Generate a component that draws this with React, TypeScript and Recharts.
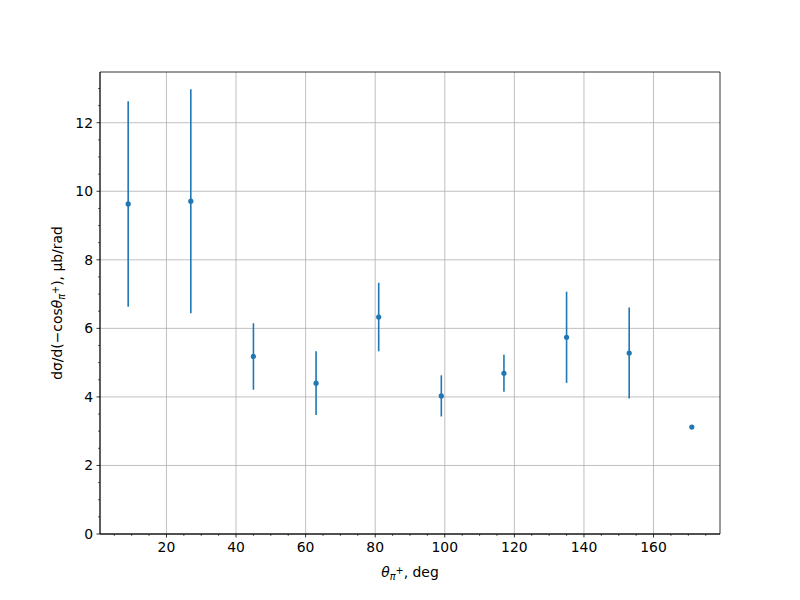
import { ScatterChart, Scatter, XAxis, YAxis, CartesianGrid, ErrorBar, ReferenceArea } from "recharts";

const angles = [9, 27, 45, 63, 81, 99, 117, 135, 153, 171];
const crossSection = [9.63, 9.71, 5.18, 4.4, 6.33, 4.03, 4.69, 5.74, 5.28, 3.12];
const errors = [3.0, 3.27, 0.97, 0.93, 1.0, 0.6, 0.54, 1.33, 1.33, 0];

const xMajor = [20, 40, 60, 80, 100, 120, 140, 160];
const xTicks = [5, 10, 15, 20, 25, 30, 35, 40, 45, 50, 55, 60, 65, 70, 75, 80, 85, 90, 95, 100, 105, 110, 115, 120, 125, 130, 135, 140, 145, 150, 155, 160, 165, 170, 175];
const yMajor = [0, 2, 4, 6, 8, 10, 12];
const yTicks = [0, 0.5, 1, 1.5, 2, 2.5, 3, 3.5, 4, 4.5, 5, 5.5, 6, 6.5, 7, 7.5, 8, 8.5, 9, 9.5, 10, 10.5, 11, 11.5, 12, 12.5, 13];

const X_DOMAIN = [0.9, 179.1];
const Y_DOMAIN = [0, 13.48];

const data = angles.map((x, i) => ({ x, y: crossSection[i], err: errors[i] }));

const FONT = "DejaVu Sans";
const BLUE = "#1f77b4";

const XTick = (props: any) => {
    const { x, y, payload } = props;
    const major = xMajor.includes(payload.value);
    return (
        <g>
            <line x1={x} x2={x} y1={y} y2={y + (major ? 3.5 : 2)} stroke="#000" strokeWidth={major ? 0.8 : 0.6} />
            {major && (
                <text x={x} y={y + 7} dy="0.76em" textAnchor="middle" fontFamily={FONT} fontSize={13.9} fill="#000">
                    {payload.value}
                </text>
            )}
        </g>
    );
};

const YTick = (props: any) => {
    const { x, y, payload } = props;
    const major = yMajor.includes(payload.value);
    return (
        <g>
            <line x1={x - (major ? 3.5 : 2)} x2={x} y1={y} y2={y} stroke="#000" strokeWidth={major ? 0.8 : 0.6} />
            {major && (
                <text x={x - 7} y={y} dy="0.36em" textAnchor="end" fontFamily={FONT} fontSize={13.9} fill="#000">
                    {payload.value}
                </text>
            )}
        </g>
    );
};

export default function App() {
    return (
        <div style={{ position: "absolute", left: 0, top: 0, width: 800, height: 600, background: "#fff" }}>
            <ScatterChart width={800} height={600} margin={{ top: 72, right: 80, bottom: 26, left: 40 }}>
                <CartesianGrid stroke="#b0b0b0" strokeWidth={0.8} verticalValues={xMajor} horizontalValues={yMajor} />
                <XAxis
                    dataKey="x"
                    type="number"
                    domain={X_DOMAIN}
                    ticks={xTicks}
                    interval={0}
                    tickSize={0}
                    tickMargin={0}
                    tickLine={false}
                    tick={XTick}
                    height={40}
                    axisLine={{ stroke: "#000", strokeWidth: 0.8 }}
                    allowDataOverflow
                />
                <YAxis
                    dataKey="y"
                    type="number"
                    domain={Y_DOMAIN}
                    ticks={yTicks}
                    interval={0}
                    tickSize={0}
                    tickMargin={0}
                    tickLine={false}
                    tick={YTick}
                    width={60}
                    axisLine={{ stroke: "#000", strokeWidth: 0.8 }}
                    allowDataOverflow
                />
                <ReferenceArea x1={X_DOMAIN[0]} x2={X_DOMAIN[1]} y1={Y_DOMAIN[0]} y2={Y_DOMAIN[1]} fill="none" fillOpacity={0} stroke="#000" strokeWidth={0.8} strokeOpacity={1} />
                <Scatter
                    data={data}
                    isAnimationActive={false}
                    fill={BLUE}
                    shape={(p: any) => <circle cx={p.cx} cy={p.cy} r={2.6} fill={BLUE} />}
                >
                    <ErrorBar dataKey="err" direction="y" width={0} stroke={BLUE} strokeWidth={1.6} />
                </Scatter>
            </ScatterChart>
            <svg width={800} height={600} style={{ position: "absolute", left: 0, top: 0, pointerEvents: "none" }}>
                <text x={410} y={577} textAnchor="middle" fontFamily={FONT} fontSize={13.9} fill="#000">
                    <tspan fontStyle="italic">θ</tspan>
                    <tspan fontStyle="italic" fontSize={9.7} dy={3}>π</tspan>
                    <tspan fontSize={9.7} dy={-6}>+</tspan>
                    <tspan dy={3}>, deg</tspan>
                </text>
                <text x={0} y={0} transform="translate(62,303) rotate(-90)" textAnchor="middle" fontFamily={FONT} fontSize={13.9} fill="#000">
                    <tspan>dσ/d(−cos</tspan>
                    <tspan fontStyle="italic">θ</tspan>
                    <tspan fontStyle="italic" fontSize={9.7} dy={3}>π</tspan>
                    <tspan fontSize={9.7} dy={-6}>+</tspan>
                    <tspan dy={3}>), μb/rad</tspan>
                </text>
            </svg>
        </div>
    );
}
